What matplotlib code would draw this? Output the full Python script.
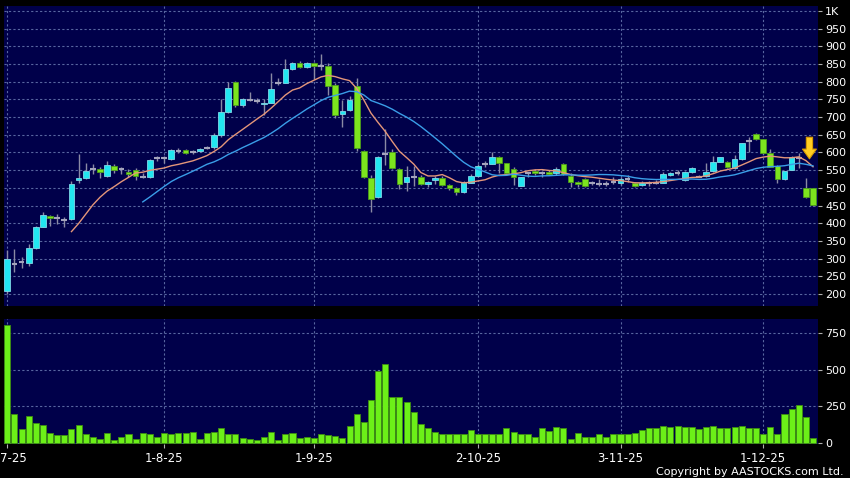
import matplotlib
matplotlib.use("Agg")
import matplotlib.pyplot as plt
import matplotlib.transforms as mtransforms
import numpy as np
import pandas as pd

# daily OHLC (HKD), 114 trading days
opens = [207, 285, 289, 287, 329, 390, 420, 416, 410, 411, 522, 527, 552, 554, 534, 563,
         552, 546, 550, 532, 530, 583, 585, 581, 604, 606, 601, 603, 612, 615, 649, 713,
         800, 733, 749, 745, 736, 741, 797, 797, 835, 854, 841, 854, 845, 843, 792, 709,
         719, 788, 605, 529, 473, 595, 602, 554, 517, 532, 532, 511, 521, 529, 507, 499,
         487, 515, 534, 566, 567, 588, 569, 553, 505, 541, 548, 541, 546, 541, 567, 534,
         517, 525, 515, 512, 512, 517, 513, 525, 515, 508, 513, 515, 515, 535, 543, 522,
         544, 532, 534, 548, 574, 574, 555, 581, 631, 651, 637, 598, 562, 524, 551, 584,
         499, 499]
highs = [325, 327, 305, 341, 392, 431, 424, 425, 418, 520, 596, 569, 567, 560, 577, 567,
         560, 552, 557, 541, 581, 589, 589, 610, 613, 610, 606, 612, 617, 654, 750, 800,
         801, 755, 772, 753, 750, 824, 810, 863, 857, 858, 857, 856, 878, 852, 795, 748,
         760, 810, 606, 535, 590, 666, 609, 556, 562, 562, 535, 518, 534, 533, 510, 502,
         520, 540, 566, 577, 602, 590, 570, 560, 532, 545, 552, 548, 550, 558, 570, 541,
         520, 527, 520, 524, 520, 530, 530, 535, 517, 518, 520, 522, 545, 546, 550, 548,
         560, 537, 569, 590, 588, 577, 593, 626, 645, 655, 639, 609, 565, 549, 589, 598,
         527, 500]
lows = [200, 262, 273, 279, 328, 389, 393, 397, 390, 408, 513, 524, 539, 527, 530, 541,
        540, 532, 522, 527, 529, 575, 570, 580, 599, 597, 595, 601, 609, 611, 643, 711,
        729, 728, 745, 740, 705, 740, 792, 795, 833, 838, 838, 807, 833, 763, 697, 671,
        717, 603, 527, 433, 471, 565, 552, 496, 492, 505, 507, 503, 512, 505, 493, 481,
        485, 514, 532, 558, 566, 541, 540, 508, 504, 532, 535, 532, 535, 535, 535, 503,
        503, 502, 508, 505, 506, 510, 507, 516, 503, 505, 506, 510, 513, 533, 535, 520,
        543, 530, 532, 546, 572, 557, 553, 580, 600, 635, 596, 558, 515, 522, 550, 555,
        470, 449]
closes = [299, 285, 289, 329, 389, 422, 414, 416, 410, 510, 527, 549, 552, 544, 564, 550,
          552, 538, 534, 532, 579, 583, 585, 607, 604, 599, 601, 609, 612, 649, 713, 781,
          733, 750, 749, 745, 741, 779, 797, 835, 854, 841, 854, 845, 845, 787, 706, 716,
          748, 614, 530, 468, 588, 595, 555, 511, 530, 532, 511, 516, 529, 508, 499, 487,
          516, 533, 563, 566, 588, 569, 543, 532, 531, 541, 541, 541, 539, 554, 538, 517,
          510, 505, 515, 512, 512, 517, 525, 525, 505, 515, 513, 515, 538, 541, 543, 544,
          555, 532, 546, 574, 586, 558, 581, 626, 631, 637, 598, 560, 524, 549, 586, 584,
          475, 452]
# volume (thousand shares)
volumes = [802, 199, 95, 185, 136, 124, 72, 56, 56, 99, 122, 63, 43, 27, 68, 25,
           41, 66, 27, 72, 63, 43, 68, 63, 68, 68, 79, 32, 68, 77, 104, 66,
           66, 36, 32, 25, 45, 79, 25, 66, 70, 34, 45, 36, 66, 56, 50, 36,
           115, 201, 142, 294, 490, 535, 314, 316, 278, 212, 131, 102, 79, 61, 61, 63,
           61, 90, 63, 63, 63, 63, 106, 75, 63, 66, 41, 106, 81, 111, 106, 27,
           72, 43, 41, 63, 41, 61, 61, 61, 70, 88, 102, 102, 115, 108, 115, 111,
           108, 95, 108, 115, 106, 106, 113, 115, 102, 102, 66, 111, 61, 197, 230, 260,
           176, 34]

# first label is clipped by the chart edge in the original, only "7-25" shows
date_labels = ["7-25", "1-8-25", "1-9-25", "2-10-25", "3-11-25", "1-12-25"]
date_idx = [0, 22, 43, 66, 86, 106]
price_ticks = list(range(200, 1001, 50))
vol_ticks = [0, 250, 500, 750]

NAVY = "#00004a"
GRID = "#5866a0"
UP = "#22e6f0"
DOWN = "#7ce41e"
DOJI = "#a4a4bc"
WICK = "#8a8aa4"

o = np.array(opens)
h = np.array(highs)
l = np.array(lows)
c = np.array(closes)
x = np.arange(len(c))

ma10 = pd.Series(closes).rolling(10).mean()
ma20 = pd.Series(closes).rolling(20).mean()

fig = plt.figure(figsize=(8.5, 4.78), dpi=100, facecolor="black")
ax = fig.add_axes([4 / 850, 172 / 478, 814.3 / 850, 300 / 478])
axv = fig.add_axes([4 / 850, 34 / 478, 814.3 / 850, 124.7 / 478])

for a in (ax, axv):
    a.set_facecolor(NAVY)
    for s in a.spines.values():
        s.set_visible(False)
    a.set_axisbelow(True)
    a.grid(True, color=GRID, linestyle=(0, (2, 2)), linewidth=0.8)
    a.yaxis.tick_right()
    a.tick_params(axis="y", colors="#b0b0b0", labelcolor="white", length=3, pad=2, labelsize=8)
    a.set_xlim(-0.46, 113.74)
    a.set_xticks(date_idx)

# price panel
ax.vlines(x, l, h, color=WICK, lw=1, zorder=2)
up = c > o
dn = c < o
dj = c == o
ax.bar(x[up], (c - o)[up], bottom=o[up], width=0.8, color=UP, edgecolor="#80d8e8", lw=0.6, zorder=3)
ax.bar(x[dn], (o - c)[dn], bottom=c[dn], width=0.8, color=DOWN, edgecolor="#4c9c1c", lw=0.6, zorder=3)
ax.hlines(c[dj], x[dj] - 0.4, x[dj] + 0.4, color=DOJI, lw=1.5, zorder=3)
ax.plot(x, ma10, color="#e4967a", lw=1, zorder=4)
ax.plot(x, ma20, color="#3a9ee8", lw=1, zorder=4)

ax.annotate("", xy=(112.5, 582), xytext=(112.5, 643),
            arrowprops=dict(arrowstyle="simple,head_width=1.0,head_length=0.7,tail_width=0.45",
                            fc="#ffcc22", ec="#d89a00", lw=0.8, shrinkA=0, shrinkB=0), zorder=6)

ax.set_ylim(166, 1014)
ax.set_yticks(price_ticks, [("1K" if p == 1000 else str(p)) for p in price_ticks])
ax.tick_params(axis="x", length=0, labelbottom=False)

# volume panel
axv.bar(x, volumes, width=0.85, color="#6cf018", edgecolor="#3e8e12", lw=0.6, zorder=3)
axv.set_ylim(-5, 841)
axv.set_yticks(vol_ticks)
axv.set_xticks(date_idx, date_labels)
axv.tick_params(axis="x", colors="#b0b0b0", labelcolor="white", length=3, pad=3, labelsize=8.5)

# keep the first date flush with the left edge
first = axv.get_xticklabels()[0]
first.set_ha("left")
first.set_transform(first.get_transform() + mtransforms.ScaledTranslation(-0.072, 0, fig.dpi_scale_trans))

fig.text(844 / 850, 1 - 471.7 / 478, "Copyright by AASTOCKS.com Ltd.", ha="right", va="center",
         color="white", fontsize=8)

fig.savefig("out.png", dpi=100, facecolor="black")
